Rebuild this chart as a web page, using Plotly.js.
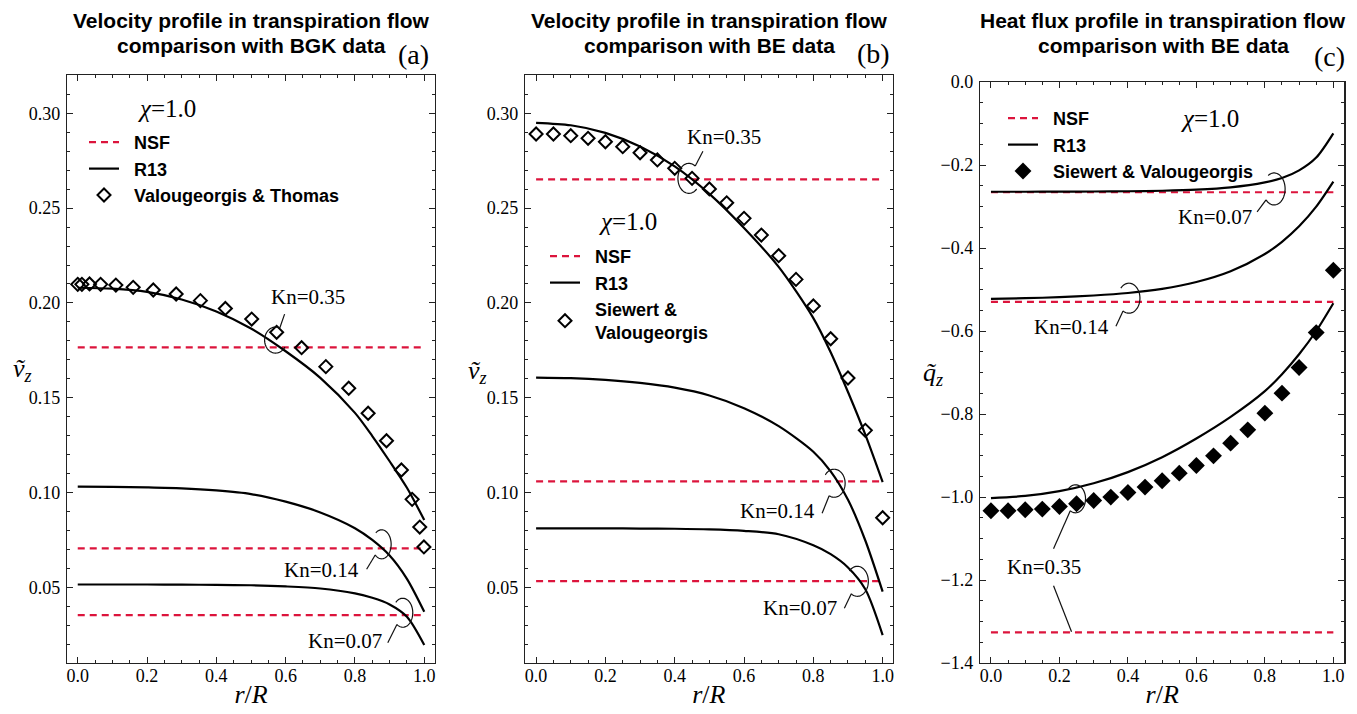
<!DOCTYPE html>
<html><head><meta charset="utf-8">
<script src="https://cdn.plot.ly/plotly-3.0.1.min.js"></script>
<style>html,body{margin:0;padding:0;background:#fff}</style>
</head><body><div id="chart" style="width:1357px;height:714px"></div>
<script>
// ---------------- data ----------------
const rCurve = [0, 0.1, 0.2, 0.3, 0.4, 0.5, 0.6, 0.7, 0.8, 0.85, 0.9, 0.95, 1.0];
const nsfR = [0, 1];

// (a) BGK comparison
const aR13_035 = [0.2080, 0.2075, 0.2058, 0.2018, 0.1955, 0.1865, 0.1745, 0.1605, 0.1420, 0.1298, 0.1165, 0.1025, 0.0855];
const aR13_014 = [0.1031, 0.1030, 0.1027, 0.1022, 0.1011, 0.0992, 0.0952, 0.0895, 0.0812, 0.0750, 0.0668, 0.0545, 0.0371];
const aR13_007 = [0.0515, 0.0515, 0.0515, 0.0514, 0.0513, 0.0511, 0.0505, 0.0494, 0.0468, 0.0445, 0.0410, 0.0345, 0.0196];
const aNSF = [0.1766, 0.0706, 0.0354];            // Kn = 0.35, 0.14, 0.07
const aDataR = [0, 0.012, 0.034, 0.066, 0.110, 0.160, 0.218, 0.284, 0.354, 0.426, 0.502, 0.574, 0.646, 0.716, 0.782, 0.838, 0.891, 0.934, 0.965, 0.987, 0.999];
const aDataV = [0.2098, 0.2098, 0.2100, 0.2098, 0.2094, 0.2082, 0.2068, 0.2047, 0.2012, 0.1971, 0.1915, 0.1845, 0.1764, 0.1664, 0.1550, 0.1418, 0.1273, 0.1119, 0.0964, 0.0818, 0.0713];

// (b) BE comparison, velocity
const bR13_035 = [0.2950, 0.2937, 0.2897, 0.2825, 0.2720, 0.2575, 0.2395, 0.2190, 0.1920, 0.1740, 0.1530, 0.1305, 0.1055];
const bR13_014 = [0.1606, 0.1603, 0.1594, 0.1578, 0.1553, 0.1512, 0.1445, 0.1350, 0.1215, 0.1112, 0.0962, 0.0747, 0.0477];
const bR13_007 = [0.0811, 0.0811, 0.0811, 0.0810, 0.0809, 0.0806, 0.0798, 0.0780, 0.0722, 0.0675, 0.0605, 0.0490, 0.0248];
const bNSF = [0.2652, 0.1059, 0.0533];
const bDataR = [0, 0.05, 0.10, 0.15, 0.20, 0.25, 0.30, 0.35, 0.40, 0.45, 0.50, 0.55, 0.60, 0.65, 0.70, 0.75, 0.80, 0.85, 0.90, 0.95, 1.0];
const bDataV = [0.2891, 0.2891, 0.2882, 0.2868, 0.2850, 0.2824, 0.2792, 0.2754, 0.2710, 0.2657, 0.2601, 0.2528, 0.2446, 0.2358, 0.2249, 0.2124, 0.1984, 0.1811, 0.1604, 0.1328, 0.0867];

// (c) BE comparison, heat flux
const cR13_007 = [-0.2645, -0.2644, -0.2642, -0.2639, -0.2633, -0.2620, -0.2595, -0.2540, -0.2420, -0.2315, -0.2130, -0.1820, -0.1236];
const cR13_014 = [-0.5225, -0.5210, -0.5185, -0.5145, -0.5085, -0.4985, -0.4820, -0.4560, -0.4144, -0.3851, -0.3478, -0.3004, -0.2401];
const cR13_035 = [-1.0026, -0.9975, -0.9860, -0.9670, -0.9400, -0.9040, -0.8590, -0.8070, -0.7450, -0.7040, -0.6560, -0.6000, -0.5330];
const cNSF = [-1.3263, -0.5299, -0.2657];         // Kn = 0.35, 0.14, 0.07
const cDataR = [0, 0.05, 0.10, 0.15, 0.20, 0.25, 0.30, 0.35, 0.40, 0.45, 0.50, 0.55, 0.60, 0.65, 0.70, 0.75, 0.80, 0.85, 0.90, 0.95, 1.0];
const cDataQ = [-1.0332, -1.0332, -1.0308, -1.0292, -1.0228, -1.0164, -1.0084, -1.0003, -0.9891, -0.9762, -0.9610, -0.9425, -0.9241, -0.9008, -0.8702, -0.8382, -0.7980, -0.7498, -0.6881, -0.6038, -0.4535];

const titlesA = ['Velocity profile in transpiration flow', 'comparison with BGK data'];
const titlesB = ['Velocity profile in transpiration flow', 'comparison with BE data'];
const titlesC = ['Heat flux profile in transpiration flow', 'comparison with BE data'];
const knLabels = ['Kn=0.35', 'Kn=0.14', 'Kn=0.07'];

// ---------------- styling ----------------
const RED = '#dc143c';
const SERIF = 'Liberation Serif';
const SANS = 'Liberation Sans';
const W = 1357, H = 714;

const traces = [];
function panel(ax, nsf, r13s, dR, dV, symbol, dataName, legendId) {
  const xa = 'x' + (ax === 1 ? '' : ax), ya = 'y' + (ax === 1 ? '' : ax);
  nsf.forEach((v, i) => traces.push({
    x: nsfR, y: [v, v], xaxis: xa, yaxis: ya, mode: 'lines', name: '\u00a0\u00a0NSF',
    line: {color: RED, width: 2.2, dash: '7px,5px'}, showlegend: i === 0, legend: legendId, hoverinfo: 'skip'
  }));
  r13s.forEach((arr, i) => traces.push({
    x: rCurve, y: arr, xaxis: xa, yaxis: ya, mode: 'lines', name: '\u00a0\u00a0R13',
    line: {color: '#000', width: 2.2, shape: 'spline', smoothing: 0.8}, showlegend: i === 0, legend: legendId, hoverinfo: 'skip'
  }));
  traces.push({
    x: dR, y: dV, xaxis: xa, yaxis: ya, mode: 'markers', name: dataName,
    marker: symbol === 'open'
      ? {symbol: 'diamond-open', size: 10, color: '#000', line: {width: 2, color: '#000'}}
      : {symbol: 'diamond', size: 13, color: '#000'},
    legend: legendId, hoverinfo: 'skip'
  });
}
panel(1, aNSF, [aR13_035, aR13_014, aR13_007], aDataR, aDataV, 'open', '\u00a0\u00a0Valougeorgis & Thomas', 'legend');
panel(2, bNSF, [bR13_035, bR13_014, bR13_007], bDataR, bDataV, 'open', '\u00a0\u00a0Siewert &<br>\u00a0\u00a0Valougeorgis', 'legend2');
panel(3, cNSF, [cR13_035, cR13_014, cR13_007], cDataR, cDataQ, 'filled', '\u00a0\u00a0Siewert & Valougeorgis', 'legend3');

function xAxis(domain, range) {
  return {
    domain: domain, range: range, dtick: 0.2, tick0: 0, tickformat: '.1f',
    ticks: 'inside', ticklen: 6, tickwidth: 1, tickcolor: '#222',
    minor: {dtick: 0.05, tick0: 0, ticks: 'inside', ticklen: 3, tickcolor: '#222', tickwidth: 1},
    showline: true, linecolor: '#222', linewidth: 1.2, mirror: 'allticks',
    showgrid: false, zeroline: false, tickfont: {family: SERIF, size: 18, color: '#000'},
    ticklabelstandoff: -4,
    title: {text: '<i>r</i>/<i>R</i>', font: {family: SERIF, size: 26, color: '#000'}, standoff: 0}
  };
}
function yAxis(domain, range, dtick, minor, fmt) {
  return {
    domain: domain, range: range, dtick: dtick, tick0: 0, tickformat: fmt,
    ticks: 'inside', ticklen: 6, tickwidth: 1, tickcolor: '#222',
    minor: {dtick: minor, tick0: 0, ticks: 'inside', ticklen: 3, tickcolor: '#222', tickwidth: 1},
    showline: true, linecolor: '#222', linewidth: 1.2, mirror: 'allticks',
    showgrid: false, zeroline: false, tickfont: {family: SERIF, size: 18, color: '#000'},
    ticklabelstandoff: 2
  };
}
const yDomAB = [(H - 663) / H, (H - 75) / H];
const yDomC = [(H - 663) / H, (H - 82) / H];

const annotations = [];
const shapes = [];
function paperText(px, py, text, font, extra) {
  annotations.push(Object.assign({xref: 'paper', yref: 'paper', x: px / W, y: 1 - py / H,
    text: text, showarrow: false, font: font, xanchor: 'center', yanchor: 'middle'}, extra || {}));
}
const titleFont = {family: SANS, size: 21, color: '#000', weight: 'bold'};
[[titlesA, 251], [titlesB, 709], [titlesC, 1163]].forEach(([t, cx]) => {
  paperText(cx, 20, t[0], titleFont);
  paperText(cx, 45, t[1], titleFont);
});
const panelFont = {family: SERIF, size: 28, color: '#000'};
paperText(413, 55, '(a)', panelFont);
paperText(873, 54, '(b)', panelFont);
paperText(1329, 57, '(c)', panelFont);
const axFont = {family: SERIF, size: 26, color: '#000'};
paperText(22, 370, '<i>\u1e7d</i><sub><i>z</i></sub>', axFont);
paperText(477, 372, '<i>\u1e7d</i><sub><i>z</i></sub>', axFont);
paperText(933, 374, '<i>q\u0303</i><sub><i>z</i></sub>', axFont);
const chiFont = {family: SERIF, size: 25, color: '#000'};
paperText(167, 108, '<i>\u03c7</i>=1.0', chiFont);
paperText(628, 221, '<i>\u03c7</i>=1.0', chiFont);
paperText(1210, 119, '<i>\u03c7</i>=1.0', chiFont);

// callouts: [axis, cx, cy (data), rx, ry, leader end (dx,dy screen px), label offset (dx,dy), label, extra leader]
const callouts = [
  [1, 0.571, 0.1804, 11, 13, [9, -26], [32, -43], knLabels[0]],
  [1, 0.877, 0.0727, 9.5, 14.5, [-15, 25], [-60, 26], knLabels[1]],
  [1, 0.938, 0.0366, 10, 14.5, [-15, 30], [-58, 28], knLabels[2]],
  [2, 0.441, 0.2657, 11, 15, [14, -27], [35, -41], knLabels[0]],
  [2, 0.860, 0.1049, 11, 14, [-12, 30], [-57, 28], knLabels[1]],
  [2, 0.927, 0.0532, 11, 15, [-13, 27], [-57, 27], knLabels[2]],
  [3, 0.827, -0.2577, 11, 16, [-17, 23], [-59, 28], knLabels[2]],
  [3, 0.403, -0.5210, 11, 15, [-13, 28], [-57, 29], knLabels[1]],
  [3, 0.247, -1.0043, 10, 14, [-22, 50], [-32, 68], knLabels[0], [[-22, 87], [-4, 133]]],
];
const lineStyle = {color: '#111', width: 1.2};
callouts.forEach(([ax, cx, cy, rx, ry, ld, lab, text, extra]) => {
  const xr = 'x' + (ax === 1 ? '' : ax), yr = 'y' + (ax === 1 ? '' : ax);
  const t0 = Math.atan2(-ld[1] / ry, ld[0] / rx);
  const pts = [];
  for (let k = 0; k <= 60; k++) {
    const t = t0 + k / 60 * (260 * Math.PI / 180);
    pts.push((rx * Math.cos(t)).toFixed(2) + ',' + (ry * Math.sin(t)).toFixed(2));
  }
  const base = {xref: xr, yref: yr, xsizemode: 'pixel', ysizemode: 'pixel', xanchor: cx, yanchor: cy, line: lineStyle};
  shapes.push(Object.assign({type: 'path', path: 'M' + pts.join('L')}, base));
  shapes.push(Object.assign({type: 'line', x0: rx * Math.cos(t0), y0: ry * Math.sin(t0), x1: ld[0], y1: -ld[1]}, base));
  if (extra) shapes.push(Object.assign({type: 'line', x0: extra[0][0], y0: -extra[0][1], x1: extra[1][0], y1: -extra[1][1]}, base));
  annotations.push({xref: xr, yref: yr, x: cx, y: cy, xshift: lab[0], yshift: -lab[1], text: text,
    showarrow: false, font: {family: SERIF, size: 21, color: '#000'}});
});

const legFont = {family: SANS, size: 18, color: '#000', weight: 'bold'};
function leg(px, py) {
  return {x: px / W, y: 1 - py / H, xanchor: 'left', yanchor: 'top', bgcolor: 'rgba(0,0,0,0)',
    font: legFont, tracegroupgap: 0, itemwidth: 30};
}

const layout = {
  width: W, height: H, margin: {l: 0, r: 0, t: 0, b: 0},
  paper_bgcolor: '#fff', plot_bgcolor: '#fff', showlegend: true,
  xaxis: xAxis([67 / W, 435 / W], [-0.031, 1.031]),
  xaxis2: xAxis([525 / W, 892.7 / W], [-0.032, 1.029]),
  xaxis3: xAxis([980 / W, 1344.3 / W], [-0.032, 1.032]),
  yaxis: yAxis(yDomAB, [0.0101, 0.3202], 0.05, 0.01, '.2f'),
  yaxis2: yAxis(yDomAB, [0.0101, 0.3202], 0.05, 0.01, '.2f'),
  yaxis3: yAxis(yDomC, [-1.4, 0.0], 0.2, 0.05, '.1f'),
  legend: leg(84, 124),
  legend2: leg(545, 238),
  legend3: leg(1003, 100),
  annotations: annotations, shapes: shapes
};
layout.yaxis2.anchor = 'x2'; layout.xaxis2.anchor = 'y2';
layout.yaxis3.anchor = 'x3'; layout.xaxis3.anchor = 'y3';
Plotly.newPlot('chart', traces, layout, {displayModeBar: false, staticPlot: true});
</script></body></html>
